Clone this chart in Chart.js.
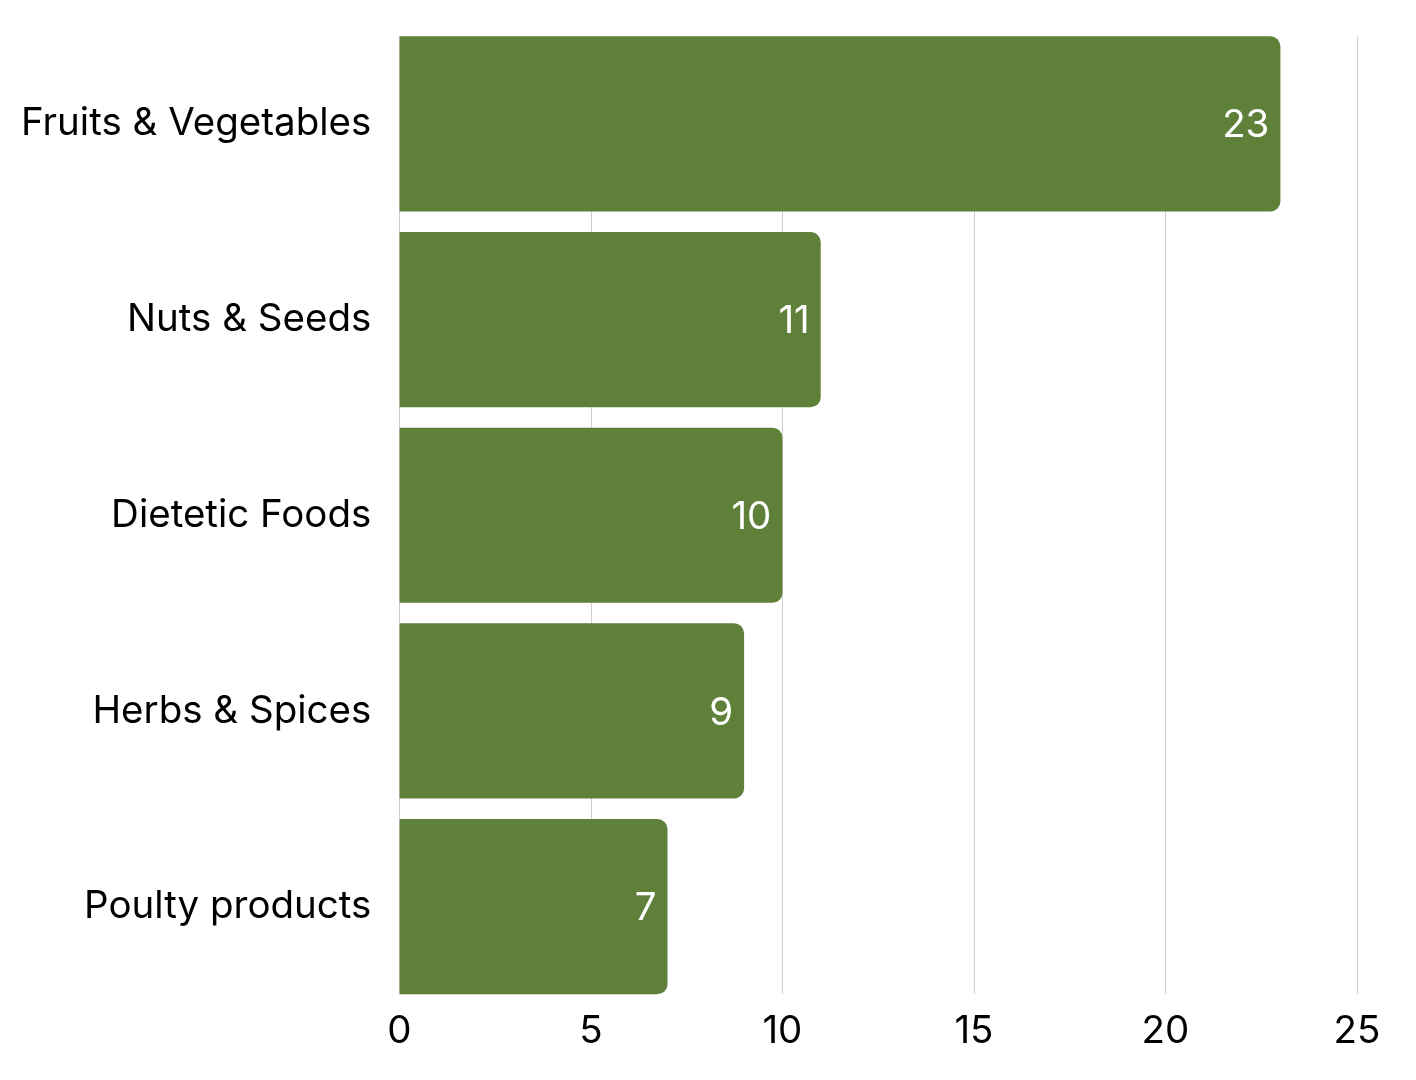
<!DOCTYPE html>
<html>
<head>
<meta charset="utf-8">
<script src="https://cdn.jsdelivr.net/npm/chart.js@4"></script>
<style>
  html, body { margin: 0; padding: 0; background: #fff; }
  #wrap { width: 1416px; height: 1080px; }
</style>
</head>
<body>
<div id="wrap"><canvas id="chart" width="1416" height="1080"></canvas></div>
<script>
// chart data
const categories = ['Fruits & Vegetables', 'Nuts & Seeds', 'Dietetic Foods', 'Herbs & Spices', 'Poulty products'];
const counts = [23, 11, 10, 9, 7];
const xTicks = [0, 5, 10, 15, 20, 25];

const barGreen = '#5e8039';
const gridGray = '#cfcfcf';
const fontSize = 38.5;

// vertical grid lines that stop at the outer bar edges
const barGrid = {
    id: 'barGrid',
    beforeDatasetsDraw(chart) {
        const ctx = chart.ctx;
        const bars = chart.getDatasetMeta(0).data;
        const top = bars[0].y - bars[0].height / 2;
        const last = bars[bars.length - 1];
        const bottom = last.y + last.height / 2;
        const xs = chart.scales.x;
        ctx.save();
        ctx.strokeStyle = gridGray;
        ctx.lineWidth = 1;
        xTicks.forEach(v => {
            const px = Math.round(xs.getPixelForValue(v)) + 0.5;
            ctx.beginPath();
            ctx.moveTo(px, top);
            ctx.lineTo(px, bottom);
            ctx.stroke();
        });
        ctx.restore();
    }
};

// draws the value inside the end of each bar
const valueLabels = {
    id: 'valueLabels',
    afterDatasetsDraw(chart) {
        const ctx = chart.ctx;
        const meta = chart.getDatasetMeta(0);
        ctx.save();
        ctx.font = fontSize + 'px Inter';
        ctx.fillStyle = '#ffffff';
        ctx.textAlign = 'right';
        ctx.textBaseline = 'middle';
        meta.data.forEach((bar, i) => {
            ctx.fillText(String(counts[i]), bar.x - 11, bar.y + 2);
        });
        ctx.restore();
    }
};

new Chart(document.getElementById('chart'), {
    type: 'bar',
    data: {
        labels: categories,
        datasets: [{
            data: counts,
            backgroundColor: barGreen,
            borderRadius: 10,
            borderSkipped: 'start',
            categoryPercentage: 0.895,
            barPercentage: 1
        }]
    },
    options: {
        indexAxis: 'y',
        responsive: false,
        devicePixelRatio: 1,
        animation: false,
        layout: { padding: { top: 26, right: 59, left: 1, bottom: 29 } },
        plugins: {
            legend: { display: false },
            tooltip: { enabled: false }
        },
        scales: {
            x: {
                min: 0,
                max: 25,
                afterBuildTicks: scale => { scale.ticks = xTicks.map(v => ({ value: v })); },
                grid: { display: false },
                border: { display: false },
                ticks: { color: '#000', font: { family: 'Inter', size: fontSize, lineHeight: 1 }, padding: 0 }
            },
            y: {
                grid: { display: false },
                border: { display: false },
                afterFit: scale => { scale.paddingTop = 0; scale.paddingBottom = 0; },
                ticks: { color: '#000', font: { family: 'Inter', size: fontSize }, padding: 20 }
            }
        }
    },
    plugins: [barGrid, valueLabels]
});
</script>
</body>
</html>
